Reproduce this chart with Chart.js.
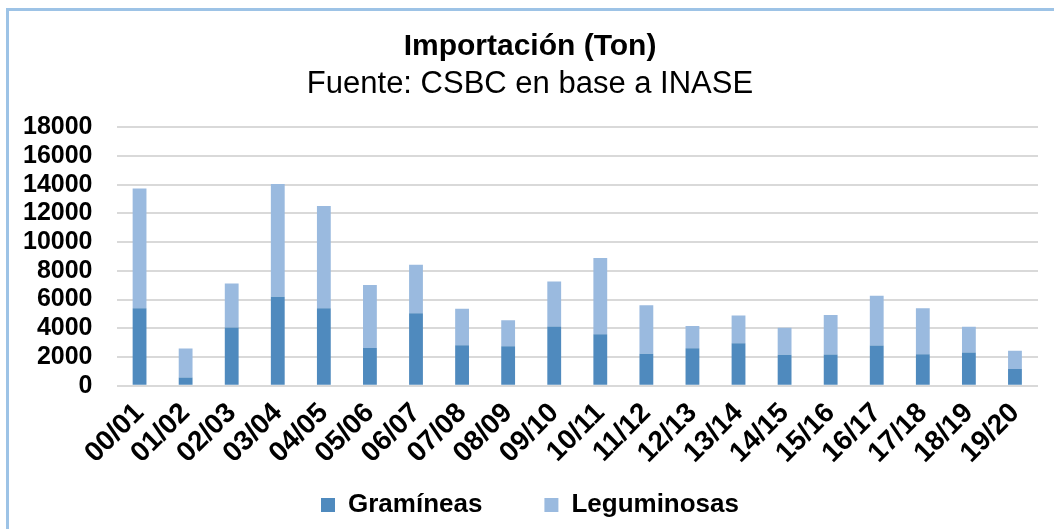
<!DOCTYPE html>
<html>
<head>
<meta charset="utf-8">
<script src="https://cdn.jsdelivr.net/npm/chart.js@4.4.0/dist/chart.umd.min.js"></script>
<style>
    html, body { margin: 0; padding: 0; background: #fff; }
    #wrap { position: relative; width: 1054px; height: 529px; overflow: hidden; }
    #frame {
        position: absolute; left: 6px; top: 8px; right: -10px; bottom: -10px;
        border-left: 3px solid #9DC3E6; border-top: 3px solid #9DC3E6;
    }
    canvas { position: absolute; left: 0; top: 0; }
</style>
</head>
<body>
<div id="wrap">
    <div id="frame"></div>
    <canvas id="chart" width="1054" height="529"></canvas>
</div>
<script>
// Campañas
const categories = ['00/01', '01/02', '02/03', '03/04', '04/05', '05/06', '06/07', '07/08', '08/09', '09/10',
    '10/11', '11/12', '12/13', '13/14', '14/15', '15/16', '16/17', '17/18', '18/19', '19/20'];

// Importación en toneladas
const gramineas = [5400, 570, 4060, 6200, 5400, 2630, 5050, 2820, 2750, 4130,
    3590, 2230, 2610, 2960, 2160, 2180, 2800, 2190, 2320, 1160];
const leguminosas = [8330, 2020, 3050, 7840, 7110, 4390, 3380, 2530, 1810, 3120,
    5310, 3380, 1550, 1930, 1880, 2750, 3470, 3210, 1790, 1270];

const yMax = 18000;
const yStep = 2000;

const fontFamily = '"Liberation Sans", Arial, sans-serif';

// legend padding is also used above the items; make the box shorter and
// draw it from a higher top so the slanted x labels keep their room
const legendLift = 43;
const legendLiftPlugin = {
    id: 'legendLift',
    afterInit: function(chart) {
        const legend = chart.legend;
        if (!legend) return;
        const fit = legend.fit;
        legend.fit = function() {
            fit.call(this);
            this.height -= legendLift;
        };
        const draw = legend.draw;
        legend.draw = function() {
            const top = this.top;
            this.top = top - legendLift;
            draw.apply(this, arguments);
            this.top = top;
        };
    }
};

document.addEventListener('DOMContentLoaded', function() {
    const ctx = document.getElementById('chart');
    new Chart(ctx, {
        type: 'bar',
        data: {
            labels: categories,
            datasets: [{
                label: 'Gramíneas',
                data: gramineas,
                backgroundColor: '#4F8ABE',
                barPercentage: 0.3,
                categoryPercentage: 1
            }, {
                label: 'Leguminosas',
                data: leguminosas,
                backgroundColor: '#9ABADF',
                barPercentage: 0.3,
                categoryPercentage: 1
            }]
        },
        plugins: [legendLiftPlugin],
        options: {
            responsive: false,
            animation: false,
            layout: { padding: { left: 22, right: 16, top: 29, bottom: 1 } },
            plugins: {
                title: {
                    display: true,
                    text: 'Importación (Ton)',
                    color: '#000',
                    font: { family: fontFamily, size: 30, weight: 'bold' },
                    padding: { top: 0, bottom: 1 }
                },
                subtitle: {
                    display: true,
                    text: 'Fuente: CSBC en base a INASE',
                    color: '#000',
                    font: { family: fontFamily, size: 31, weight: 'normal' },
                    padding: { top: 0, bottom: 24 }
                },
                legend: {
                    position: 'bottom',
                    labels: {
                        color: '#000',
                        boxWidth: 14,
                        boxHeight: 14,
                        padding: 62,
                        font: { family: fontFamily, size: 26, weight: 'bold' }
                    }
                },
                tooltip: { enabled: false }
            },
            scales: {
                x: {
                    stacked: true,
                    grid: { display: false },
                    border: { display: false },
                    ticks: {
                        color: '#000',
                        maxRotation: 45,
                        minRotation: 45,
                        autoSkip: false,
                        font: { family: fontFamily, size: 28, weight: 'bold' }
                    },
                    afterFit: function(scale) {
                        scale.paddingLeft = 0;
                    }
                },
                y: {
                    stacked: true,
                    min: 0,
                    max: yMax,
                    grid: { color: '#D9D9D9', lineWidth: 2, drawTicks: false },
                    border: { display: false },
                    ticks: {
                        color: '#000',
                        stepSize: yStep,
                        autoSkip: false,
                        padding: 24,
                        font: { family: fontFamily, size: 25, weight: 'bold' },
                        callback: function(value) {
                            return String(value);
                        }
                    },
                    // padding is counted on both sides of the labels; keep only the inner one
                    afterFit: function(scale) {
                        scale.width -= 23;
                    }
                }
            }
        }
    });
});
</script>
</body>
</html>
